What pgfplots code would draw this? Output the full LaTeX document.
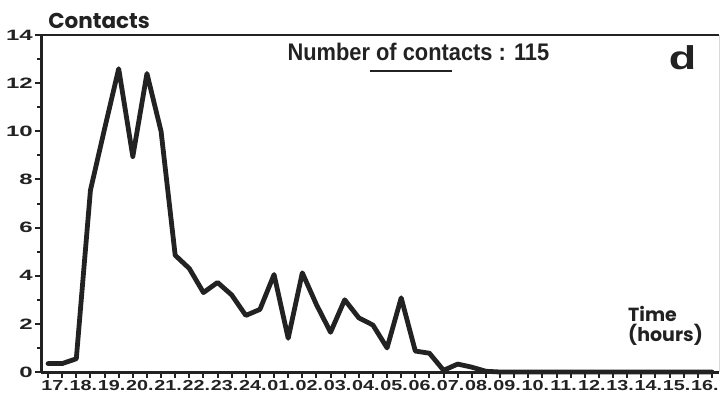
\documentclass[border=0pt]{standalone}
\usepackage{pgfplots}
\pgfplotsset{compat=1.18}
\usepackage{fontspec}
\setmainfont{Liberation Sans}
\newfontfamily\xtickfont[FakeStretch=1.36]{Liberation Sans Bold}
\newfontfamily\ytickfont[FakeStretch=1.6]{Liberation Sans Bold}
\newfontfamily\titlefont[FakeStretch=0.91]{Liberation Sans Bold}
\newfontfamily\geofont{Poppins}
\definecolor{ink}{HTML}{222222}
\begin{document}
\begin{tikzpicture}[x=1pt,y=1pt]
\useasboundingbox (0,0) rectangle (720,400);
\begin{axis}[
  at={(41pt,28pt)}, anchor=south west,
  scale only axis, width=678pt, height=337pt,
  xmin=0, xmax=24, ymin=0, ymax=14,
  clip=false,
  axis x line*=bottom, axis y line*=left,
  axis line style={line width=3pt, ink},
  ytick={0,2,...,14},
  minor y tick num=1,
  xtick={0.25,0.75,...,23.75},
  xticklabels={},
  extra x ticks={0.5,1.5,...,23.5},
  extra x tick labels={17.,18.,19.,20.,21.,22.,23.,24.,01.,02.,03.,04.,05.,06.,07.,08.,09.,10.,11.,12.,13.,14.,15.,16.},
  extra x tick style={tick style={draw=none}},
  tick align=outside,
  major tick length=6pt, minor tick length=4pt,
  tick style={line width=2pt, ink},
  /pgf/number format/assume math mode=true,
  xticklabel style={font=\xtickfont\fontsize{14.5}{14.5}\selectfont, text=ink, inner xsep=0pt, yshift=1pt},
  yticklabel style={font=\ytickfont\fontsize{15}{15}\selectfont, text=ink, inner xsep=2pt},
]
\addplot[line width=4.8pt, ink, line join=round, line cap=round] coordinates {
(0.25,0.35) (0.75,0.35) (1.25,0.55) (1.75,7.55) (2.25,10.1) (2.75,12.6)
(3.25,8.95) (3.75,12.4) (4.25,10.0) (4.75,4.85) (5.25,4.3) (5.75,3.3)
(6.25,3.72) (6.75,3.2) (7.25,2.35) (7.75,2.6) (8.25,4.05) (8.75,1.4)
(9.25,4.12) (9.75,2.8) (10.25,1.65) (10.75,3.0) (11.25,2.25) (11.75,1.95)
(12.25,1.0) (12.75,3.08) (13.25,0.87) (13.75,0.78) (14.25,0.07) (14.75,0.33)
(15.25,0.2) (15.75,0.03) (16.25,0) (16.75,0) (17.25,0) (17.75,0)
(18.25,0) (18.75,0) (19.25,0) (19.75,0) (20.25,0) (20.75,0)
(21.25,0) (21.75,0) (22.25,0) (22.75,0) (23.25,0) (23.75,0)
};
\draw[line width=1.6pt, ink] (rel axis cs:0,1) -- (rel axis cs:1,1);
\draw[line width=0.8pt, black!15] (rel axis cs:1,0) -- (rel axis cs:1,1);
\node[anchor=base, inner sep=0pt, text=ink, font=\titlefont\fontsize{24}{24}\selectfont] at (axis cs:13.36,12.96) {Number of contacts : 115};
\draw[line width=1.8pt, ink] (axis cs:11.64,12.5) -- (axis cs:14.55,12.5);
\node[anchor=base, inner sep=0pt, text=ink, font=\xtickfont\fontsize{33}{33}\selectfont] at (axis cs:22.71,12.55) {d};
\node[anchor=base west, inner sep=0pt, text=ink, font=\geofont\bfseries\fontsize{21.5}{21.5}\selectfont] at (axis cs:0.25,14.29) {Contacts};
\node[anchor=base west, inner sep=0pt, text=ink, font=\geofont\bfseries\fontsize{19}{19}\selectfont] at (axis cs:20.78,2.08) {Time};
\node[anchor=base west, inner sep=0pt, text=ink, font=\geofont\bfseries\fontsize{19}{19}\selectfont] at (axis cs:20.78,1.25) {(hours)};
\end{axis}
\end{tikzpicture}
\end{document}
